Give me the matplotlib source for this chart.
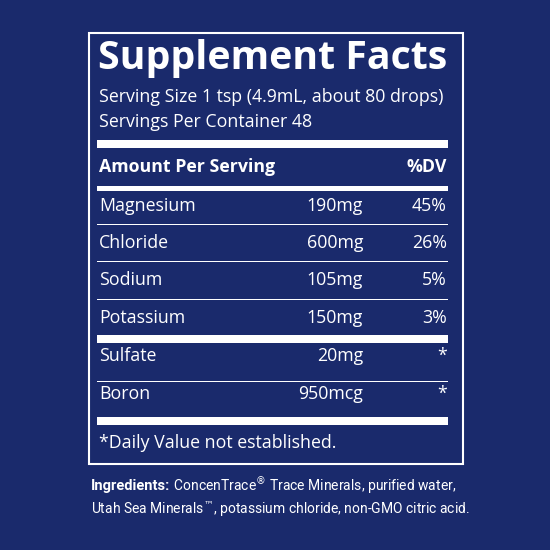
import matplotlib
matplotlib.use("Agg")
import matplotlib.pyplot as plt
from matplotlib.patches import Rectangle

nutrients = ["Magnesium", "Chloride", "Sodium", "Potassium", "Sulfate", "Boron"]
amounts = ["190mg", "600mg", "105mg", "150mg", "20mg", "950mcg"]
dv = ["45%", "26%", "5%", "3%", "*", "*"]

BG = "#1a2a6c"
W = "white"
fig = plt.figure(figsize=(5.5, 5.5), dpi=100, facecolor=BG)
ax = fig.add_axes([0, 0, 1, 1])
ax.set_xlim(0, 550); ax.set_ylim(550, 0); ax.axis("off")
ax.set_facecolor(BG)
F = "Open Sans"
FS = 12.8

ax.add_patch(Rectangle((89, 33), 374, 431, fill=False, ec=W, lw=1.5))
ax.text(98, 58, "Supplement Facts", color=W, fontsize=28.3, fontweight="bold", family=F, va="center")
ax.text(99, 97, "Serving Size 1 tsp (4.9mL, about 80 drops)", color=W, fontsize=FS, family=F, va="center")
ax.text(99, 122, "Servings Per Container 48", color=W, fontsize=FS, family=F, va="center")

def bar(y, h):
    ax.add_patch(Rectangle((97, y), 351, h, color=W, lw=0))

bar(140, 8)
ax.text(99, 167, "Amount Per Serving", color=W, fontsize=FS, fontweight="bold", family=F, va="center")
ax.text(447, 167, "%DV", color=W, fontsize=FS, fontweight="bold", family=F, va="center", ha="right")
bar(186, 5)

ys = [206, 243, 280, 318, 356, 394]
seps = {0: ("thin", 224), 1: ("thin", 261), 2: ("thin", 299), 3: ("thick", 335), 4: ("thin", 381), 5: ("thick", 417)}
for i, (n, a, d) in enumerate(zip(nutrients, amounts, dv)):
    ax.text(99, ys[i], n, color=W, fontsize=FS, family=F, va="center")
    ax.text(363, ys[i], a, color=W, fontsize=FS, family=F, va="center", ha="right")
    ax.text(447, ys[i], d, color=W, fontsize=FS, family=F, va="center", ha="right")
    kind, y = seps[i]
    bar(y, 1.2 if kind == "thin" else 8)

ax.text(99, 443, "*Daily Value not established.", color=W, fontsize=FS, family=F, va="center")

t = ax.text(91, 486, "Ingredients:", color=W, fontsize=10.5, fontweight="bold",
            family="Roboto", va="center")
ax.annotate(" ConcenTrace$^{®}$ Trace Minerals, purified water,", xy=(1, 0.5), xycoords=t,
            color=W, fontsize=10, family="Roboto", va="center")
ax.text(91, 509, "Utah Sea Minerals$^{™}$, potassium chloride, non-GMO citric acid.", color=W,
        fontsize=10, family="Roboto", va="center")

fig.savefig("out.png", dpi=100, facecolor=BG)
